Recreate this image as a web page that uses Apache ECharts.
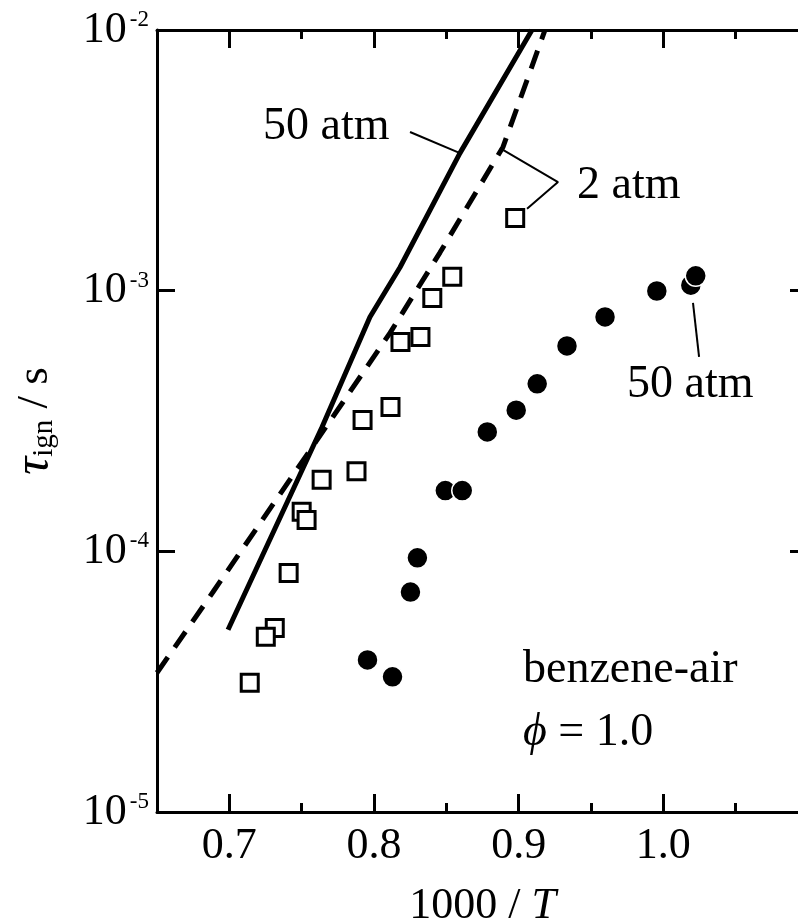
<!DOCTYPE html>
<html>
<head>
<meta charset="utf-8">
<script src="https://cdn.jsdelivr.net/npm/echarts@6/dist/echarts.min.js"></script>
<style>
html,body{margin:0;padding:0;background:#fff;}
#chart{width:798px;height:923px;}
</style>
</head>
<body>
<div id="chart"></div>
<script>
// ---- data ----
const xMajorTicks = [0.7, 0.8, 0.9, 1.0];
const xMinorTicks = [0.75, 0.85, 0.95, 1.05];

// model, 50 atm (solid)
const model50X = [0.6991, 0.7641, 0.7972, 0.8180, 0.8594, 0.9092];
const model50Y = [5.0e-5, 3.0e-4, 7.92e-4, 1.23e-3, 3.37e-3, 1.0e-2];

// model, 2 atm (dashed)
const model2X = [0.65, 0.6887, 0.7786, 0.8111, 0.8456, 0.8892, 0.9182];
const model2Y = [3.42e-5, 6.98e-5, 3.74e-4, 6.89e-4, 1.40e-3, 3.56e-3, 1.0e-2];

// experiment, 2 atm (open squares)
const exp2X = [0.8976, 0.8541, 0.8403, 0.8321, 0.8183, 0.8114, 0.7921, 0.7879, 0.7638, 0.7500, 0.7534, 0.7410, 0.7314, 0.7252, 0.7141];
const exp2Y = [1.90e-3, 1.13e-3, 9.38e-4, 6.64e-4, 6.35e-4, 3.58e-4, 3.19e-4, 2.03e-4, 1.88e-4, 1.42e-4, 1.32e-4, 8.26e-5, 5.08e-5, 4.70e-5, 3.13e-5];

// experiment, 50 atm (filled circles)
const exp50X = [1.019, 1.0224, 0.9955, 0.9597, 0.9334, 0.9128, 0.8983, 0.8783, 0.8493, 0.8610, 0.8300, 0.8252, 0.7955, 0.8128];
const exp50Y = [1.05e-3, 1.14e-3, 9.97e-4, 7.93e-4, 6.14e-4, 4.39e-4, 3.48e-4, 2.87e-4, 1.71e-4, 1.71e-4, 9.44e-5, 6.98e-5, 3.83e-5, 3.30e-5];

// annotation leader lines
const lead50X = [0.8249, 0.8594];
const lead50Y = [4.06e-3, 3.37e-3];
const lead2X = [0.8871, 0.9272, 0.9058];
const lead2Y = [3.52e-3, 2.61e-3, 2.06e-3];
const lead50bX = [1.0205, 1.0247];
const lead50bY = [8.97e-4, 5.57e-4];

const zip = (xs, ys) => xs.map((x, i) => [x, ys[i]]);
const FF = 'Liberation Serif';
const black = '#000';

const chart = echarts.init(document.getElementById('chart'), null, {renderer: 'canvas'});

function xAxisDef(pos, ticks, len, showLine, labels, extra) {
  return Object.assign({
    type: 'value', min: 0.65, max: 1.1, position: pos,
    axisLine: {show: showLine, onZero: false, lineStyle: {color: black, width: 3}},
    axisTick: {show: true, inside: true, length: len, customValues: ticks, lineStyle: {color: black, width: 3}},
    axisLabel: labels ? {show: true, customValues: ticks, formatter: v => v.toFixed(1), fontFamily: FF, fontSize: 44, color: black, margin: 12} : {show: false},
    splitLine: {show: false}
  }, extra || {});
}

const option = {
  animation: false,
  backgroundColor: '#fff',
  grid: {left: 157, right: -10, top: 30, bottom: 111, containLabel: false, outerBoundsMode: 'none'},
  xAxis: [
    xAxisDef('bottom', xMajorTicks, 18, true, true, {
      name: '{n|1000 / }{i|T}', nameLocation: 'middle', nameGap: 72,
      nameTextStyle: {rich: {
        n: {fontFamily: FF, fontSize: 44, color: black},
        i: {fontFamily: FF, fontSize: 44, fontStyle: 'italic', color: black}
      }}
    }),
    xAxisDef('bottom', xMinorTicks, 9, false, false),
    xAxisDef('top', xMajorTicks, 18, true, false),
    xAxisDef('top', xMinorTicks, 9, false, false)
  ],
  yAxis: [
    {
      type: 'log', logBase: 10, min: 1e-5, max: 1e-2, position: 'left',
      axisLine: {show: true, onZero: false, lineStyle: {color: black, width: 3}},
      axisTick: {show: true, inside: true, length: 18, lineStyle: {color: black, width: 3}},
      minorTick: {show: false},
      splitLine: {show: false},
      axisLabel: {
        margin: 8,
        formatter: v => '{b|10}{s|' + Math.round(Math.log10(v)) + '}',
        rich: {
          b: {fontFamily: FF, fontSize: 44, color: black},
          s: {fontFamily: FF, fontSize: 23, color: black, padding: [0, 0, 20, 3]}
        }
      },
      name: '{t|τ}{sub|ign}{n| / s}', nameLocation: 'middle', nameGap: 97, nameRotate: 90,
      nameTextStyle: {rich: {
        t: {fontFamily: FF, fontSize: 50, fontStyle: 'italic', color: black},
        sub: {fontFamily: FF, fontSize: 29, color: black, padding: [18, 0, 0, 0]},
        n: {fontFamily: FF, fontSize: 45, color: black}
      }}
    },
    {
      type: 'log', logBase: 10, min: 1e-5, max: 1e-2, position: 'right',
      axisLine: {show: true, onZero: false, lineStyle: {color: black, width: 3}},
      axisTick: {show: true, inside: true, length: 18, lineStyle: {color: black, width: 3}},
      minorTick: {show: false},
      splitLine: {show: false},
      axisLabel: {show: false}
    }
  ],
  series: [
    {type: 'line', name: 'model 50 atm', data: zip(model50X, model50Y), showSymbol: false, symbol: 'none',
     lineStyle: {color: black, width: 5}, clip: true, z: 2},
    {type: 'line', name: 'model 2 atm', data: zip(model2X, model2Y), showSymbol: false, symbol: 'none',
     lineStyle: {color: black, width: 5, type: [19, 12]}, clip: true, z: 2},
    {type: 'line', name: 'lead1', data: zip(lead50X, lead50Y), symbol: 'none', lineStyle: {color: black, width: 2}, z: 2},
    {type: 'line', name: 'lead2', data: zip(lead2X, lead2Y), symbol: 'none', lineStyle: {color: black, width: 2}, z: 2},
    {type: 'line', name: 'lead3', data: zip(lead50bX, lead50bY), symbol: 'none', lineStyle: {color: black, width: 2}, z: 2},
    {type: 'scatter', name: 'exp 2 atm', data: zip(exp2X, exp2Y), symbol: 'rect', symbolSize: 17,
     itemStyle: {color: '#fff', borderColor: black, borderWidth: 3, opacity: 1}, z: 3},
    {type: 'scatter', name: 'exp 50 atm', data: zip(exp50X, exp50Y), symbol: 'circle', symbolSize: 21,
     itemStyle: {color: black, borderColor: '#fff', borderWidth: 1.5, opacity: 1}, z: 3}
  ],
  graphic: [
    {type: 'text', left: 263, top: 104, style: {text: '50 atm', font: '46px "Liberation Serif"', fill: black}},
    {type: 'text', left: 577, top: 163, style: {text: '2 atm', font: '46px "Liberation Serif"', fill: black}},
    {type: 'text', left: 627, top: 362, style: {text: '50 atm', font: '46px "Liberation Serif"', fill: black}},
    {type: 'text', left: 523, top: 647, style: {text: 'benzene-air', font: '46px "Liberation Serif"', fill: black}},
    {type: 'text', left: 523, top: 710, style: {
      text: '{i|ϕ} = 1.0', fill: black, font: '46px "Liberation Serif"',
      rich: {i: {fontFamily: FF, fontSize: 46, fontStyle: 'italic', fill: black}}
    }}
  ]
};
chart.setOption(option);
</script>
</body>
</html>
